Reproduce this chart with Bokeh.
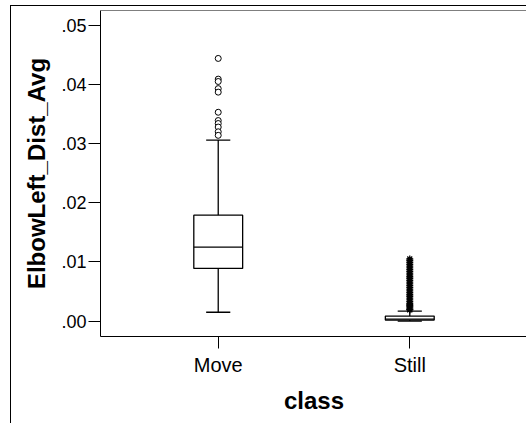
from bokeh.plotting import figure
from bokeh.models import FactorRange, Range1d, FixedTicker, ColumnDataSource, Span
from bokeh.transform import dodge
from bokeh.embed import file_html
from bokeh.resources import INLINE

# ---- data ----
classes = ["Move", "Still"]
q1 = [0.0089, 0.00017]
median = [0.0125, 0.00035]
q3 = [0.0179, 0.00085]
lower_whisker = [0.0015, 0.0]
upper_whisker = [0.0306, 0.0017]

move_outliers = [0.0444, 0.0409, 0.0405, 0.0393, 0.0387, 0.0353,
                 0.0339, 0.0334, 0.0328, 0.0320, 0.0314]
still_extremes = [0.0105, 0.0102, 0.0099, 0.0096, 0.0093, 0.0090, 0.0087,
                  0.0084, 0.0081, 0.0078, 0.0075, 0.0072, 0.0069, 0.0066,
                  0.0063, 0.0060, 0.0057, 0.0054, 0.0051, 0.0048, 0.0045,
                  0.0042, 0.0039, 0.0036, 0.0033, 0.0030, 0.0028, 0.0026,
                  0.0024, 0.0022, 0.0020, 0.0019]

y_ticks = [0.0, 0.01, 0.02, 0.03, 0.04, 0.05]
y_tick_labels = [".00", ".01", ".02", ".03", ".04", ".05"]

FONT = "Liberation Sans"
Y_START, Y_END = -0.0026, 0.0525

p = figure(
    x_range=FactorRange(factors=classes, range_padding=0.1146,
                        range_padding_units="absolute"),
    y_range=Range1d(Y_START, Y_END),
    width=516, height=418,
    min_border_left=89, min_border_top=4, min_border_bottom=88, min_border_right=0,
    output_backend="svg", toolbar_location=None,
)
p.styles = {"margin-top": "5px", "margin-left": "10px",
            "border-top": "1px solid black", "border-left": "1px solid black"}

p.xgrid.visible = False
p.ygrid.visible = False
p.outline_line_color = None
p.background_fill_color = "white"
p.border_fill_color = "white"
p.add_layout(Span(location=Y_END, dimension="width", line_color="black", line_width=1))

# axes
p.xaxis.axis_label = "class"
p.yaxis.axis_label = "ElbowLeft_Dist_Avg"
for ax in (p.xaxis[0], p.yaxis[0]):
    ax.axis_line_color = "black"
    ax.major_tick_line_color = "black"
    ax.major_tick_out = 12
    ax.major_tick_in = 0
    ax.minor_tick_out = 0
    ax.minor_tick_in = 0
    ax.axis_label_text_font = FONT
    ax.axis_label_text_font_style = "bold"
    ax.axis_label_text_font_size = "24px"
    ax.axis_label_text_color = "black"
    ax.major_label_text_font = FONT
    ax.major_label_text_color = "black"

p.xaxis.major_label_text_font_size = "20px"
p.xaxis.major_label_standoff = 5
p.xaxis.axis_label_standoff = 8
p.yaxis.major_label_text_font_size = "18px"
p.yaxis.major_label_standoff = 2
p.yaxis.axis_label_standoff = 8
p.yaxis.ticker = FixedTicker(ticks=y_ticks, minor_ticks=[])
p.yaxis.major_label_overrides = {t: l for t, l in zip(y_ticks, y_tick_labels)}

# boxes
src = ColumnDataSource(dict(cls=classes, q1=q1, med=median, q3=q3,
                            lo=lower_whisker, hi=upper_whisker))
BOX_HALF = 0.1275
CAP_HALF = 0.063

p.segment(x0="cls", x1="cls", y0="q3", y1="hi", source=src, line_color="black", line_width=1.3)
p.segment(x0="cls", x1="cls", y0="lo", y1="q1", source=src, line_color="black", line_width=1.3)
p.segment(x0=dodge("cls", -CAP_HALF, range=p.x_range), x1=dodge("cls", CAP_HALF, range=p.x_range),
          y0="hi", y1="hi", source=src, line_color="black", line_width=1.3)
p.segment(x0=dodge("cls", -CAP_HALF, range=p.x_range), x1=dodge("cls", CAP_HALF, range=p.x_range),
          y0="lo", y1="lo", source=src, line_color="black", line_width=1.3)
p.vbar(x="cls", top="q3", bottom="q1", width=2 * BOX_HALF, source=src,
       fill_color="white", line_color="black", line_width=1.3)
p.segment(x0=dodge("cls", -BOX_HALF, range=p.x_range), x1=dodge("cls", BOX_HALF, range=p.x_range),
          y0="med", y1="med", source=src, line_color="black", line_width=1.3)

# outliers and extremes
p.scatter(x=["Move"] * len(move_outliers), y=move_outliers, marker="circle", size=6,
          fill_color="white", line_color="black", line_width=1)
p.scatter(x=["Still"] * len(still_extremes), y=still_extremes, marker="asterisk", size=7,
          line_color="black", line_width=1.3)

open("out.html", "w").write(file_html(p, INLINE))
